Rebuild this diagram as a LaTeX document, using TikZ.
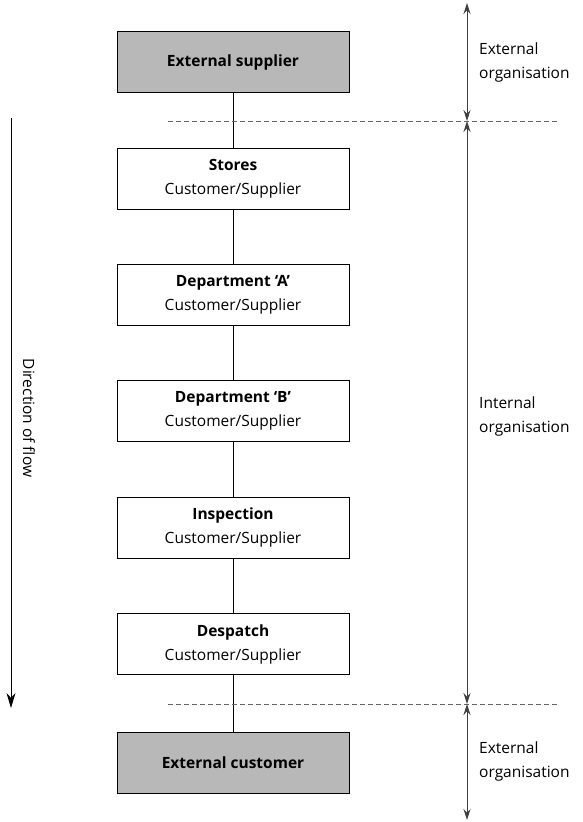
\documentclass[tikz,border=0pt]{standalone}
\usepackage{fontspec}
\setmainfont{Open Sans}
\usetikzlibrary{arrows.meta,positioning}
\begin{document}
\begin{tikzpicture}[x=1pt,y=-1pt,
        font=\fontsize{15.5}{24}\selectfont,
        unit/.style={draw, line width=0.9pt, minimum width=232pt, minimum height=61pt, align=center, inner sep=0pt},
        outside/.style={unit, fill=black!28},
        link/.style={line width=0.7pt},
        border/.style={black!60, line width=0.8pt, dash pattern=on 5pt off 3pt},
        span/.style={black!75, line width=0.9pt, {Stealth[length=11pt,width=7pt]}-{Stealth[length=11pt,width=7pt]}},
        side/.style={align=left, anchor=west, inner sep=0pt}]
    \useasboundingbox (0,0) rectangle (583,822);
    % chain of units
    \node[outside] (supplier) at (233,62) {\textbf{External supplier}};
    \node[unit] (stores) at (233,178.5) {\textbf{Stores}\\Customer/Supplier};
    \node[unit] (depA) at (233,295) {\textbf{Department ‘A’}\\Customer/Supplier};
    \node[unit] (depB) at (233,411) {\textbf{Department ‘B’}\\Customer/Supplier};
    \node[unit] (inspect) at (233,527.5) {\textbf{Inspection}\\Customer/Supplier};
    \node[unit] (despatch) at (233,644) {\textbf{Despatch}\\Customer/Supplier};
    \node[outside] (customer) at (233,762.5) {\textbf{External customer}};
    \draw[link] (supplier) -- (stores);
    \draw[link] (stores) -- (depA);
    \draw[link] (depA) -- (depB);
    \draw[link] (depB) -- (inspect);
    \draw[link] (inspect) -- (despatch);
    \draw[link] (despatch) -- (customer);
    % boundaries
    \coordinate (topL) at (168,121);
    \coordinate (topR) at (558,121);
    \coordinate (botL) at (168,704);
    \coordinate (botR) at (558,704);
    \draw[border] (topL) -- (topR);
    \draw[border] (botL) -- (botR);
    % extent arrows
    \coordinate (s0) at (467,3);
    \coordinate (s1) at (467,121);
    \coordinate (s2) at (467,704);
    \coordinate (s3) at (467,820);
    \draw[span] (s0) -- (s1);
    \draw[span] (s1) -- (s2);
    \draw[span] (s2) -- (s3);
    \node[side] (extTop) at (479,62) {External\\organisation};
    \node[side] (internal) at (479,416) {Internal\\organisation};
    \node[side] (extBot) at (479,761) {External\\organisation};
    % flow
    \coordinate (flowA) at (11,118);
    \coordinate (flowB) at (11,708);
    \draw[line width=1pt, -{Stealth[length=15pt,width=9pt]}] (flowA) -- (flowB);
    \node[rotate=-90, inner sep=0pt] (flow) at (29,418) {Direction of flow};
\end{tikzpicture}
\end{document}
